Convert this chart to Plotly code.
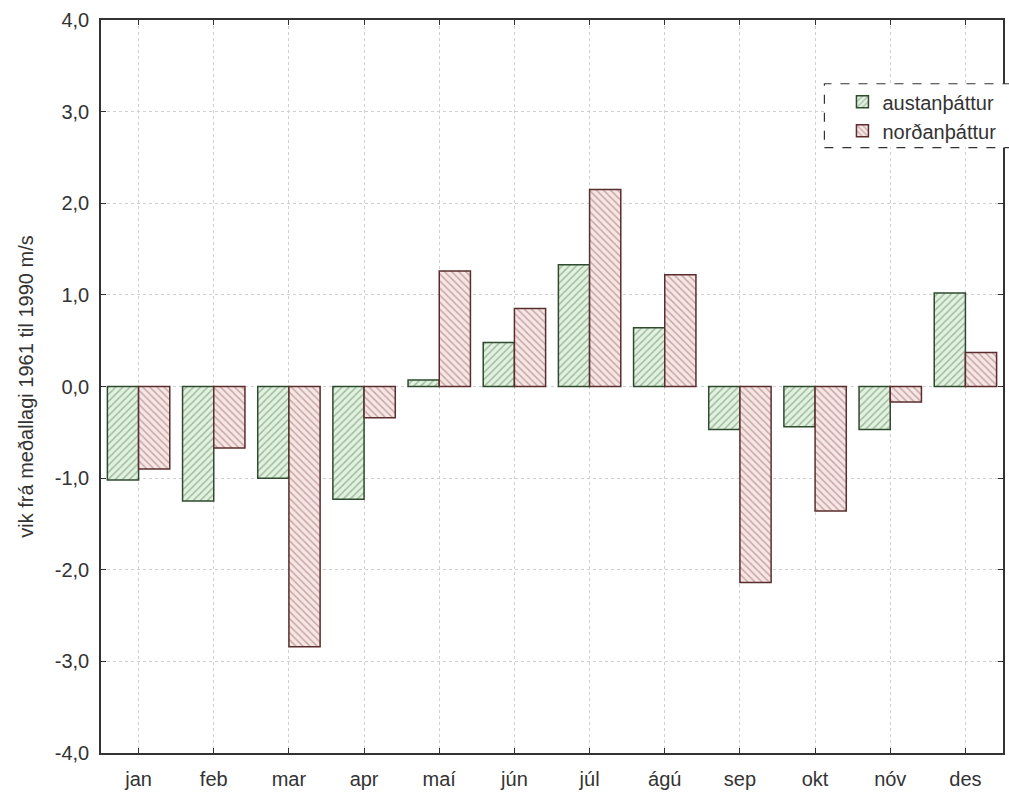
import plotly.graph_objects as go

months = ["jan", "feb", "mar", "apr", "maí", "jún", "júl", "ágú", "sep", "okt", "nóv", "des"]
austan = [-1.02, -1.25, -1.00, -1.23, 0.07, 0.48, 1.33, 0.64, -0.47, -0.44, -0.47, 1.02]
nordan = [-0.90, -0.67, -2.84, -0.34, 1.26, 0.85, 2.15, 1.22, -2.14, -1.36, -0.17, 0.37]
ytick_vals = [-4, -3, -2, -1, 0, 1, 2, 3, 4]
ytick_text = ["-4,0", "-3,0", "-2,0", "-1,0", "0,0", "1,0", "2,0", "3,0", "4,0"]

fig = go.Figure()
fig.add_trace(go.Bar(
    x=months, y=austan, name="austanþáttur",
    marker=dict(color="#e3f1e1", line=dict(color="#2f4a2f", width=1.5),
                pattern=dict(shape="/", fgcolor="#5b8a5b", bgcolor="#e3f1e1", size=5, solidity=0.3)),
))
fig.add_trace(go.Bar(
    x=months, y=nordan, name="norðanþáttur",
    marker=dict(color="#f6e6e4", line=dict(color="#5a2e2e", width=1.5),
                pattern=dict(shape="\\", fgcolor="#9a6a6a", bgcolor="#f6e6e4", size=5, solidity=0.3)),
))

fig.update_layout(
    width=1009, height=794,
    margin=dict(l=101, r=4, t=20, b=37),
    paper_bgcolor="white", plot_bgcolor="white",
    barmode="group", bargap=0.17, bargroupgap=0,
    font=dict(family="Liberation Sans, Arial, sans-serif", color="#333333", size=20),
    showlegend=True,
    legend=dict(x=0.822, y=0.915, xanchor="left", yanchor="top",
                bgcolor="rgba(0,0,0,0)", borderwidth=0,
                font=dict(size=20, color="#333333"), itemwidth=30,
                tracegroupgap=0),
    shapes=[dict(type="rect", xref="paper", yref="paper",
                 x0=0.802, x1=1.03, y0=0.826, y1=0.913,
                 line=dict(color="#333333", width=1.2, dash="dash"),
                 fillcolor="white", layer="above")],
)
fig.update_xaxes(
    showline=True, linecolor="#333333", linewidth=1.5, mirror="allticks",
    ticks="inside", ticklen=5, tickcolor="#333333",
    showgrid=True, gridcolor="#d0d0d0", griddash="dot", gridwidth=1,
    ticklabelstandoff=7,
    tickfont=dict(size=20, color="#333333"),
)
fig.update_yaxes(
    range=[-4, 4], tickvals=ytick_vals, ticktext=ytick_text,
    showline=True, linecolor="#333333", linewidth=1.5, mirror="allticks",
    ticks="inside", ticklen=5, tickcolor="#333333",
    showgrid=True, gridcolor="#d0d0d0", griddash="dot", gridwidth=1,
    zeroline=False, ticklabelstandoff=6,
    tickfont=dict(size=20, color="#333333"),
    title=dict(text="vik frá meðallagi 1961 til 1990 m/s", font=dict(size=20, color="#333333"), standoff=16),
)

fig.write_html("out.html", config={"displayModeBar": False},
               post_script="document.body.style.margin='0';")
